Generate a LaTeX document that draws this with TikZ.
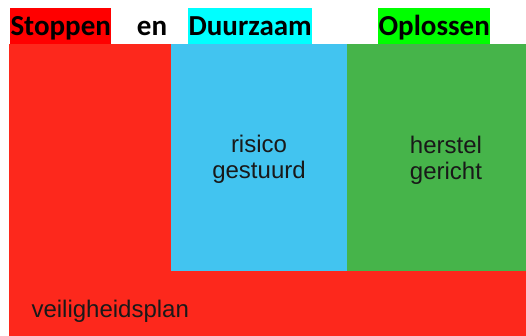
\documentclass[tikz,border=0pt]{standalone}
\usepackage{fontspec}
\newfontfamily\headfont{Carlito}
\newfontfamily\bodyfont{Liberation Sans}
\definecolor{plainred}{RGB}{253,40,28}
\definecolor{riskblue}{RGB}{66,196,240}
\definecolor{fixgreen}{RGB}{70,180,74}
\definecolor{markred}{RGB}{255,0,0}
\definecolor{markcyan}{RGB}{0,255,255}
\definecolor{markgreen}{RGB}{0,255,0}
\tikzset{
  head/.style={inner sep=0pt,text height=27pt,text depth=9pt,font=\headfont\bfseries\fontsize{29}{34}\selectfont},
  body/.style={align=center,font=\bodyfont\fontsize{24}{26}\selectfont,text=black!90}
}

\begin{document}
\begin{tikzpicture}[x=1pt,y=-1pt]
  \useasboundingbox (0,0) rectangle (526,336);
  % vlakken
  \fill[plainred] (9,44) rectangle (526,336);
  \fill[riskblue] (171,44) rectangle (347,271);
  \fill[fixgreen] (347,44) rectangle (526,271);
  % kop
  \node[head,fill=markred,minimum width=101pt,anchor=north west] (stop) at (10,8) {Stoppen};
  \node[head,anchor=north] (en) at (152,8) {en};
  \node[head,fill=markcyan,minimum width=124pt,anchor=north west] (duur) at (188,8) {Duurzaam};
  \node[head,fill=markgreen,minimum width=112pt,anchor=north west] (opl) at (378,8) {Oplossen};
  % teksten
  \node[body] (risk) at (259,159) {risico\\gestuurd};
  \node[body] (fix) at (446,160) {herstel\\gericht};
  \node[body,anchor=base west] (plan) at (28,317) {veiligheidsplan};
\end{tikzpicture}
\end{document}
